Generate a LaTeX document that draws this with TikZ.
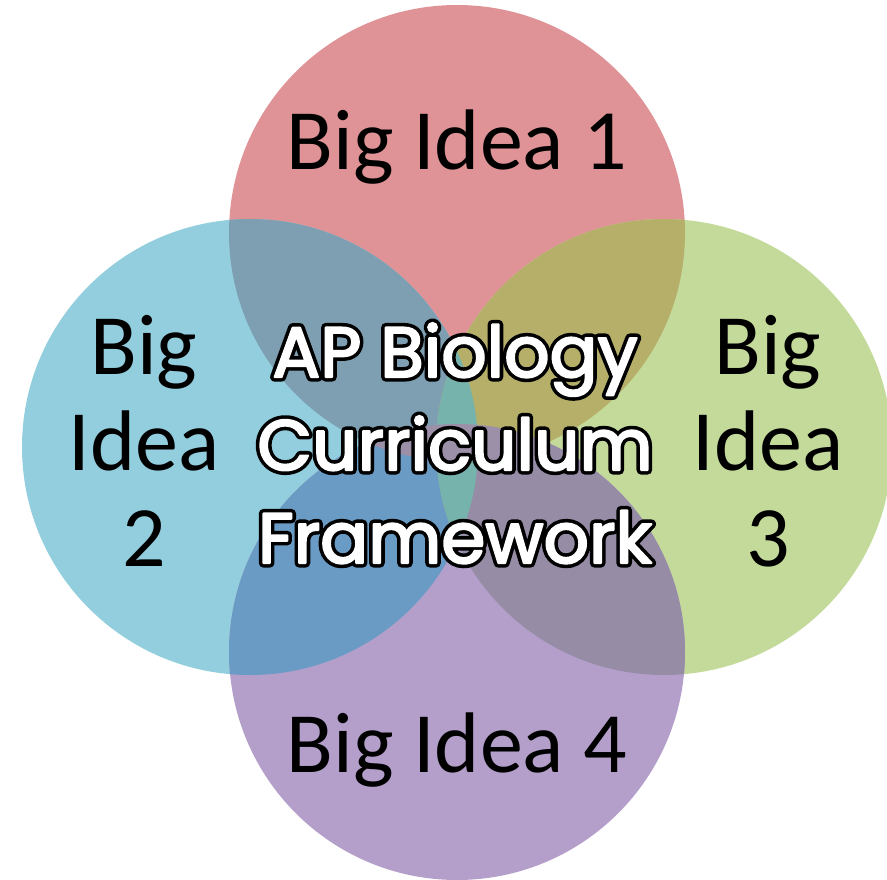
\documentclass[tikz,border=0pt]{standalone}
\usepackage{fontspec}
\setmainfont{Carlito}
\newfontfamily\apfont[FakeBold=3]{Poppins}
\newfontfamily\apfontline[FakeBold=13]{Poppins}
\definecolor{ideaone}{HTML}{DF9396}
\definecolor{ideatwo}{HTML}{93CEDE}
\definecolor{ideathree}{HTML}{C4DA9A}
\definecolor{ideafour}{HTML}{B49FCB}
\definecolor{onetwo}{HTML}{7E9FB2}
\definecolor{onethree}{HTML}{B5AF6A}
\definecolor{twofour}{HTML}{6A9BC4}
\definecolor{threefour}{HTML}{968CA6}
\definecolor{twothree}{HTML}{76B3AC}
\definecolor{onefour}{HTML}{9C8FA8}
\tikzset{
  idea/.style={font=\fontsize{86}{96}\selectfont, align=center, inner sep=0pt},
  apline/.style={font=\apfontline\fontsize{71}{93}\selectfont, align=center, inner sep=0pt, text=black},
  apfill/.style={font=\apfont\fontsize{71}{93}\selectfont, align=center, inner sep=0pt, text=white}
}
\begin{document}
\begin{tikzpicture}[x=1pt, y=-1pt, line join=round, line cap=round]
	\useasboundingbox (0,0) rectangle (887,880);
	\clip (0,0) rectangle (887,880);
	%% Khai bao tam cac hinh tron
	\path
	(457,233) coordinate (T)
	(250,447) coordinate (L)
	(664,447) coordinate (R)
	(457,652) coordinate (B)
	;
	\def\rr{228}
	%% ve hinh tron
	\foreach \c/\m in {T/ideaone,L/ideatwo,R/ideathree,B/ideafour}
	\fill[\m] (\c) circle (\rr);
	%% phan giao nhau
	\foreach \p/\q/\m in {T/L/onetwo,T/R/onethree,L/B/twofour,R/B/threefour,L/R/twothree,T/B/onefour}
	{\begin{scope}
		\clip (\p) circle (\rr);
		\fill[\m] (\q) circle (\rr);
	\end{scope}}
	%% chu (base = dong cuoi)
	\node[idea, anchor=base] (one) at (457,170) {Big Idea 1};
	\node[idea, anchor=base] (four) at (457,772) {Big Idea 4};
	\node[idea, anchor=base] (two) at (144,566) {Big\\Idea\\2};
	\node[idea, anchor=base] (three) at (768,566) {Big\\Idea\\3};
	\node[apline, anchor=base] (apb) at (455,563) {AP Biology\\Curriculum\\Framework};
	\node[apfill, anchor=base] (apf) at (455,563) {AP Biology\\Curriculum\\Framework};
\end{tikzpicture}
\end{document}
